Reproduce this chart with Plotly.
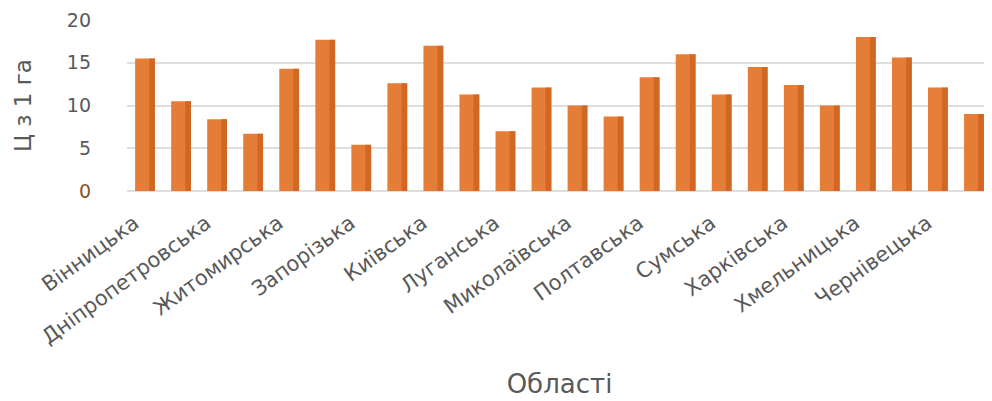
import plotly.graph_objects as go

regions = ["Вінницька", "Волинська", "Дніпропетровська", "Донецька", "Житомирська",
           "Закарпатська", "Запорізька", "Івано-Франківська", "Київська", "Кіровоградська",
           "Луганська", "Львівська", "Миколаївська", "Одеська", "Полтавська",
           "Рівненська", "Сумська", "Тернопільська", "Харківська", "Херсонська",
           "Хмельницька", "Черкаська", "Чернівецька", "Чернігівська"]
yields = [15.5, 10.5, 8.4, 6.7, 14.3, 17.7, 5.4, 12.6, 17.0, 11.3,
          7.0, 12.1, 10.0, 8.7, 13.3, 16.0, 11.3, 14.5, 12.4, 10.0,
          18.0, 15.6, 12.1, 9.0]
shown_labels = regions[::2]
shown_text = [name + "\u00a0\u00a0" for name in shown_labels]
y_ticks = [0, 5, 10, 15, 20]
y_ticktext = ['<span style="color:#8a5230">0</span>', "5", "10", "15", "20"]

fig = go.Figure()
fig.add_trace(go.Bar(
    x=regions, y=yields, width=0.55, offset=-0.275,
    marker=dict(color="#E67D36", line=dict(width=0)),
    hoverinfo="x+y",
))
# darker right-hand shading of each column (same values)
fig.add_trace(go.Bar(
    x=regions, y=yields, width=0.16, offset=0.115,
    marker=dict(color="#C9601C", opacity=0.75, line=dict(width=0)),
    hoverinfo="skip",
))

fig.update_layout(
    width=992, height=401,
    margin=dict(l=119, r=8, t=12, b=218),
    barmode="overlay",
    paper_bgcolor="white", plot_bgcolor="white",
    showlegend=False,
    font=dict(family="DejaVu Sans", color="#595959"),
    xaxis=dict(
        automargin=False,
        tickmode="array", tickvals=shown_labels, ticktext=shown_text,
        tickangle=-36, tickfont=dict(size=21, color="#595959"),
        ticklabelstandoff=7,
        showgrid=False, showline=False, ticks="",
        title=dict(text="Області", font=dict(size=26, color="#595959"), standoff=26),
    ),
    yaxis=dict(
        automargin=False,
        range=[0, 20], tickmode="array", tickvals=y_ticks, ticktext=y_ticktext,
        tickfont=dict(size=19, color="#595959"),
        ticklabelstandoff=35,
        showgrid=True, gridcolor="#dedede", gridwidth=2,
        zeroline=True, zerolinecolor="#dedede", zerolinewidth=2,
        showline=False, ticks="",
        title=dict(text="Ц з 1 га", font=dict(size=23, color="#595959"), standoff=28),
    ),
)

fig.write_html("out.html")
